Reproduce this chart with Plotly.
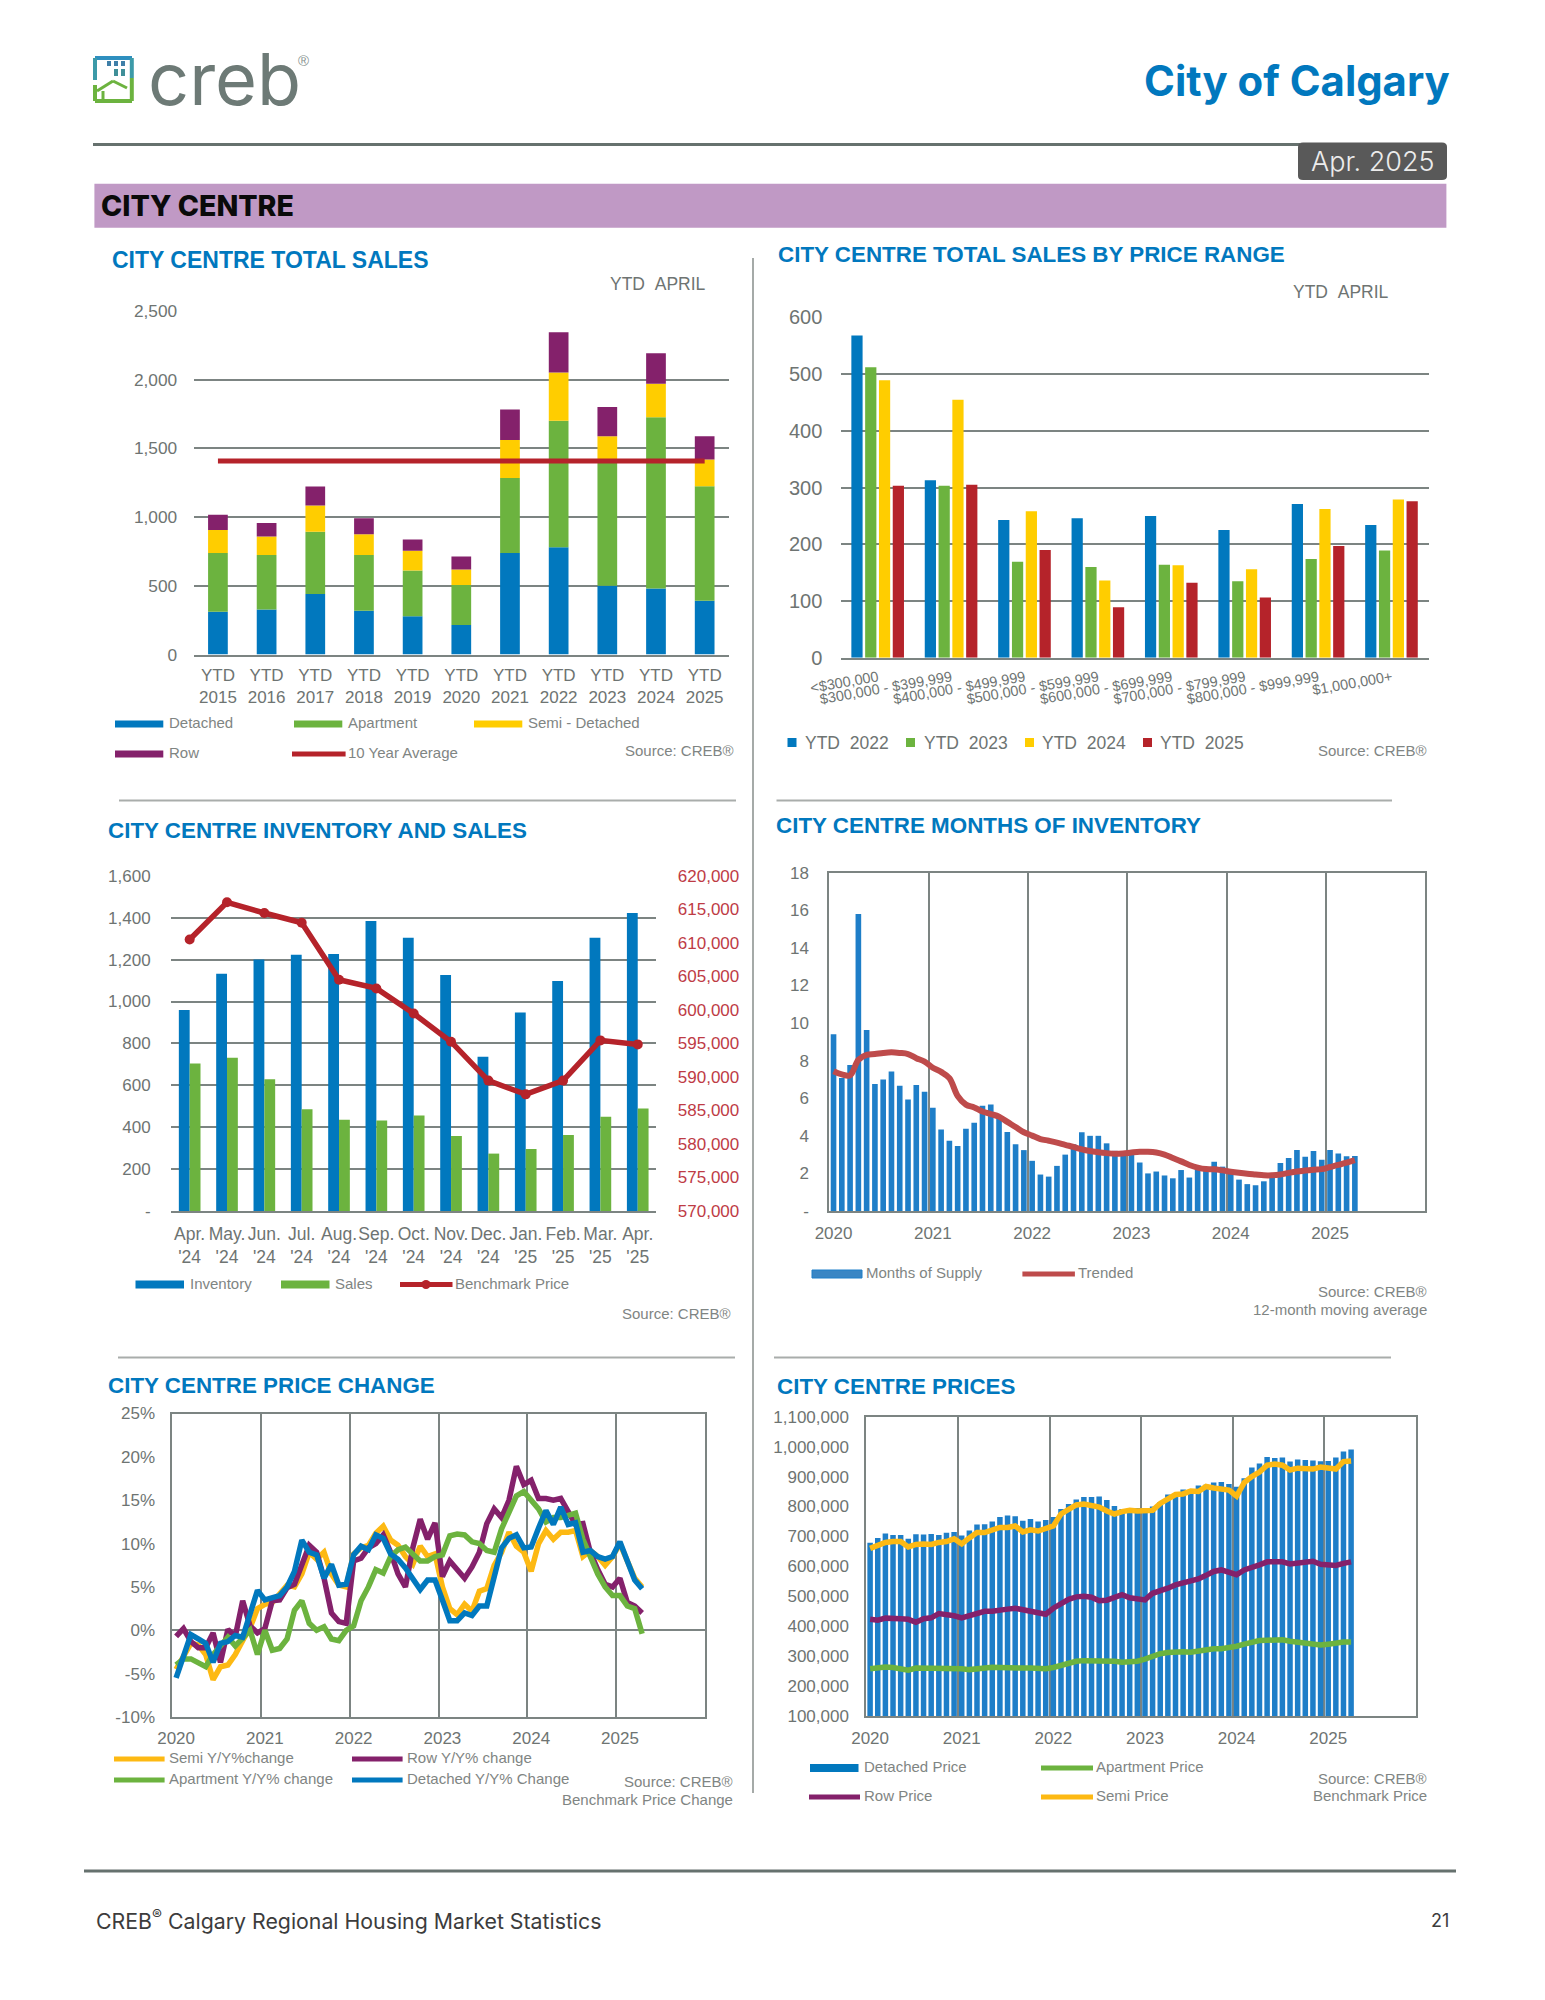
import plotly.graph_objects as go

W, H = 1545, 2000
BLUE, GREEN, YEL, PUR, RED = "#0178BE", "#6CB33F", "#FFCD00", "#84216B", "#B5232A"
GRID = "#7C8482"
TXT = "#6E7472"
LEG = "#7F8583"
SANS = "Liberation Sans"
HEAD = "Inter"

# ---- Total sales
sales_years = ["YTD<br>2015", "YTD<br>2016", "YTD<br>2017", "YTD<br>2018", "YTD<br>2019", "YTD<br>2020",
               "YTD<br>2021", "YTD<br>2022", "YTD<br>2023", "YTD<br>2024", "YTD<br>2025"]
sales_detached = [311, 328, 441, 318, 279, 215, 738, 780, 501, 480, 392]
sales_apartment = [427, 396, 452, 406, 332, 290, 547, 922, 899, 1247, 833]
sales_semi = [169, 134, 191, 152, 145, 113, 276, 350, 189, 243, 195]
sales_row = [110, 99, 138, 116, 81, 95, 222, 293, 212, 223, 169]
sales_average = [1409] * 11

# ---- Sales by price range
price_ranges = ["<$300,000", "$300,000 - $399,999", "$400,000 - $499,999", "$500,000 - $599,999",
                "$600,000 - $699,999", "$700,000 - $799,999", "$800,000 - $999,999", "$1,000,000+"]
range_2022 = [568, 313, 243, 246, 250, 225, 271, 234]
range_2023 = [512, 303, 169, 160, 164, 135, 174, 189]
range_2024 = [489, 455, 258, 136, 163, 156, 262, 279]
range_2025 = [303, 305, 190, 89, 132, 106, 197, 276]

# ---- Inventory and sales
inv_months = ["Apr.<br>'24", "May.<br>'24", "Jun.<br>'24", "Jul.<br>'24", "Aug.<br>'24", "Sep.<br>'24", "Oct.<br>'24",
              "Nov.<br>'24", "Dec.<br>'24", "Jan.<br>'25", "Feb.<br>'25", "Mar.<br>'25", "Apr.<br>'25"]
inventory = [959, 1133, 1200, 1223, 1227, 1384, 1304, 1126, 736, 947, 1098, 1304, 1422]
inv_sales = [704, 731, 629, 486, 435, 432, 456, 358, 274, 296, 363, 450, 489]
benchmark = [610500, 616050, 614450, 613000, 604500, 603200, 599450, 595250, 589450, 587400, 589450, 595450, 594850]

# ---- Monthly series, Jan 2020 to Apr 2025
month_index = list(range(64))
year_labels = ["2020", "2021", "2022", "2023", "2024", "2025"]
year_ticks = [0, 12, 24, 36, 48, 60]

supply = [9.4, 7.07, 7.77, 15.8, 9.63, 6.76, 7.0, 7.42, 6.67, 5.93, 6.7, 6.35,
          5.5, 4.34, 3.74, 3.46, 4.38, 4.69, 5.6, 5.66, 5.0, 4.2, 3.55, 3.24,
          2.67, 1.94, 1.83, 2.4, 3.0, 3.55, 4.19, 4.0, 4.0, 3.6, 3.2, 3.0,
          3.19, 2.58, 2.0, 2.1, 1.89, 1.74, 2.18, 1.78, 2.27, 2.27, 2.62, 2.36,
          2.0, 1.67, 1.43, 1.37, 1.58, 1.9, 2.55, 2.82, 3.24, 2.88, 3.19, 2.73,
          3.24, 3.06, 2.91, 2.93]
trended = [7.44, 7.27, 7.22, 8.04, 8.31, 8.35, 8.41, 8.44, 8.41, 8.35, 8.13, 7.95,
           7.62, 7.4, 7.07, 6.12, 5.66, 5.51, 5.29, 5.16, 5.02, 4.74, 4.47, 4.19,
           4.01, 3.83, 3.74, 3.64, 3.52, 3.41, 3.28, 3.19, 3.13, 3.08, 3.04, 3.06,
           3.11, 3.15, 3.15, 3.11, 3.0, 2.82, 2.64, 2.45, 2.31, 2.23, 2.22, 2.16,
           2.09, 2.03, 1.98, 1.94, 1.9, 1.9, 1.94, 2.03, 2.1, 2.16, 2.2, 2.23,
           2.34, 2.45, 2.58, 2.71]

chg_semi = [-4.5, -3, -1.5, -1.7, -2.8, -5.7, -4.2, -4, -2.8, -1.2, 0.3, 2.5,
            3, 3.2, 4.2, 5.2, 5.0, 6.5, 9, 8.2, 9, 6.5, 5.2, 5,
            8.8, 9.5, 9.8, 11.2, 12, 10.4, 9.8, 8.5, 7.6, 9.7, 8.5, 8.8,
            5, 2.5, 1.8, 3, 2.2, 4.5, 4.8, 7.5, 9, 11.3, 9.7, 9,
            6.8, 10, 11.5, 10.5, 11.3, 11.3, 11.5, 8.5, 9.2, 8.5, 7.5, 8.5,
            10, 8, 6, 5]
chg_row = [-0.7, 0.2, -1.3, -2, -2, -0.3, -3.7, 0.1, -0.7, 3.4, 0.5, -0.3,
           0.2, 3.4, 3.5, 4.9, 5.3, 7.5, 9.8, 9.0, 6, 2, 1, 0.8,
           8.0, 8.3, 9.5, 10, 11, 9, 6.5, 5, 9.5, 12.8, 10.5, 12.4,
           6.2, 8, 7, 6, 7.3, 9, 12.3, 14, 13, 15, 18.9, 16.8,
           17.3, 15.2, 15.2, 15, 15.2, 13.8, 12.2, 12.3, 9, 7, 5.3, 5,
           6, 3.2, 2.8, 2]
chg_apartment = [-4, -3.3, -3.3, -3.7, -4.2, -2.8, -1.8, -0.8, -1.8, -1, 0, -2.8,
                 0, -2.3, -2.1, -1, 2.3, 3.4, 0.8, 0, 0.4, -1, -1.2, 0,
                 0.5, 3.4, 5, 7, 6.6, 8.5, 9.3, 9.6, 8.8, 8, 8, 8.5,
                 8.7, 10.9, 11.1, 11, 10.2, 10, 9.2, 9, 11.7, 13.5, 15.5, 16,
                 15, 14, 12.5, 13, 13, 13.2, 13.5, 10.5, 8.5, 6.5, 5, 4,
                 4, 2.8, 2.5, -0.4]
chg_detached = [-5.5, -2.8, -0.5, -1, -1.5, -3.7, -1.5, -1.3, -0.6, -0.8, 2.0, 4.6,
                3.5, 3.8, 4.0, 5.0, 6.8, 10.4, 9.0, 8.7, 6.0, 7.6, 5.2, 5.3,
                8.7, 9.7, 9.3, 11, 10.6, 8.8, 8.2, 7.2, 6.0, 4.7, 5.8, 5.8,
                3.5, 1.1, 1.1, 2, 1.7, 2.8, 2.8, 6.5, 9.5, 10.6, 11, 9.5,
                9.6, 11.8, 13.8, 12.2, 14.2, 12.2, 12.4, 9.0, 9.2, 8.5, 8.2, 8.5,
                10.2, 8, 5.8, 4.8]

price_detached = [679, 695, 710, 705, 705, 692, 707, 706, 708, 705, 712, 715,
                  703, 720, 740, 741, 750, 765, 770, 767, 752, 758, 750, 755,
                  765, 792, 808, 823, 832, 832, 833, 822, 802, 792, 795, 795,
                  795, 800, 815, 840, 845, 857, 857, 870, 873, 880, 882, 875,
                  866, 894, 930, 944, 965, 962, 964, 950, 957, 955, 954, 951,
                  952, 964, 984, 990]
price_apartment = [258, 262, 264, 262, 258, 253, 260, 260, 260, 262, 260, 258,
                   258, 255, 258, 260, 263, 262, 260, 260, 260, 260, 258, 258,
                   262, 270, 278, 283, 285, 285, 285, 283, 283, 280, 280, 283,
                   290, 300, 308, 312, 315, 315, 313, 318, 322, 325, 325, 327,
                   333, 340, 347, 352, 353, 355, 355, 350, 347, 343, 338, 337,
                   340, 345, 347, 347]
price_row = [423, 420, 427, 428, 425, 423, 413, 425, 428, 442, 440, 435,
             428, 435, 443, 450, 450, 455, 457, 460, 455, 450, 445, 440,
             460, 475, 490, 498, 500, 497, 485, 487, 498, 505, 495, 492,
             488, 510, 517, 527, 538, 545, 548, 558, 570, 583, 588, 580,
             572, 588, 595, 605, 615, 617, 615, 608, 612, 615, 617, 607,
             604, 603, 610, 615]
price_semi = [660, 670, 680, 683, 683, 665, 673, 675, 673, 680, 683, 692,
              675, 695, 713, 713, 720, 730, 730, 735, 715, 722, 718, 725,
              735, 775, 790, 805, 808, 803, 798, 785, 775, 783, 787, 785,
              785, 787, 810, 825, 840, 842, 852, 850, 867, 862, 858, 855,
              835, 880, 900, 915, 938, 942, 938, 922, 928, 928, 925, 932,
              930, 925, 950, 952]


def px(x):
    return x / W


def py(y):
    return 1 - y / H


shapes, notes = [], []


def rect(x0, y0, x1, y1, fill, line=None):
    shapes.append(dict(type="rect", xref="paper", yref="paper", x0=px(x0), x1=px(x1), y0=py(y0), y1=py(y1),
                       fillcolor=fill, line=dict(width=1 if line else 0, color=line or fill)))


def seg(x0, y0, x1, y1, color, width):
    shapes.append(dict(type="line", xref="paper", yref="paper", x0=px(x0), x1=px(x1), y0=py(y0), y1=py(y1),
                       line=dict(color=color, width=width)))


def txt(x, y, s, size, color=LEG, anchor="left", family=SANS, weight=400):
    notes.append(dict(xref="paper", yref="paper", x=px(x), y=py(y), text=s, showarrow=False, xanchor=anchor,
                      yanchor="middle", align=anchor,
                      font=dict(size=size, color=color, family=family, weight=weight)))


def leg(x, y, s, size=15, color=LEG):
    txt(x - 2.5, y - 1.5, s, size, color)


def src(x, y, s):
    txt(x + 2, y - 1, s, 15, LEG, "right")


def dom(a, b, total):
    return [a / total, b / total]


def ydom(top, bottom):
    return [1 - bottom / H, 1 - top / H]


base_tick = dict(family=SANS, color=TXT)
fig = go.Figure()

# ---------- Chart 1: total sales
stack_base = [0] * len(sales_years)
for name, vals, col in [("Detached", sales_detached, BLUE), ("Apartment", sales_apartment, GREEN),
                        ("Semi - Detached", sales_semi, YEL), ("Row", sales_row, PUR)]:
    fig.add_trace(go.Bar(name=name, x=sales_years, y=vals, base=list(stack_base), marker_color=col, width=0.405,
                         offset=-0.2025, xaxis="x", yaxis="y"))
    stack_base = [a + b for a, b in zip(stack_base, vals)]
fig.add_trace(go.Scatter(name="10 Year Average", x=sales_years, y=sales_average, mode="lines",
                         line=dict(color=RED, width=5), xaxis="x", yaxis="y"))

# ---------- Chart 2: price ranges
for i, (name, vals, col) in enumerate([("YTD 2022", range_2022, BLUE), ("YTD 2023", range_2023, GREEN),
                                        ("YTD 2024", range_2024, YEL), ("YTD 2025", range_2025, RED)]):
    fig.add_trace(go.Bar(name=name, x=price_ranges, y=vals, marker_color=col, width=0.153,
                         offset=-0.363 + i * 0.188, xaxis="x2", yaxis="y2"))

# ---------- Chart 3: inventory
fig.add_trace(go.Bar(name="Inventory", x=inv_months, y=inventory, marker_color=BLUE, width=0.29, offset=-0.29,
                     xaxis="x3", yaxis="y3"))
fig.add_trace(go.Bar(name="Sales", x=inv_months, y=inv_sales, marker_color=GREEN, width=0.29, offset=0,
                     xaxis="x3", yaxis="y3"))
fig.add_trace(go.Scatter(name="Benchmark Price", x=inv_months, y=benchmark, mode="lines+markers",
                         line=dict(color=RED, width=5.5), marker=dict(color=RED, size=10), xaxis="x3", yaxis="y7"))

# ---------- Chart 4: months of supply
fig.add_trace(go.Bar(name="Months of Supply", x=month_index, y=supply, marker_color="#1E7EC8", width=0.68,
                     xaxis="x4", yaxis="y4"))
fig.add_trace(go.Scatter(name="Trended", x=month_index, y=trended, mode="lines",
                         line=dict(color="#BE4B4B", width=6, shape="spline"), xaxis="x4", yaxis="y4"))

# ---------- Chart 5: price change
for name, vals, col in [("Semi Y/Y%change", chg_semi, "#FDB913"), ("Row Y/Y% change", chg_row, PUR),
                        ("Apartment Y/Y% change", chg_apartment, GREEN), ("Detached Y/Y% Change", chg_detached, BLUE)]:
    fig.add_trace(go.Scatter(name=name, x=month_index, y=vals, mode="lines",
                             line=dict(color=col, width=5.5), xaxis="x5", yaxis="y5"))

# ---------- Chart 6: prices
fig.add_trace(go.Bar(name="Detached Price", x=month_index, y=[v * 1000 for v in price_detached],
                     marker_color="#1E7EC8", width=0.72, xaxis="x6", yaxis="y6"))
for name, vals, col in [("Apartment Price", price_apartment, GREEN), ("Row Price", price_row, PUR),
                        ("Semi Price", price_semi, "#FDB913")]:
    fig.add_trace(go.Scatter(name=name, x=month_index, y=[v * 1000 for v in vals], mode="lines",
                             line=dict(color=col, width=5.5), xaxis="x6", yaxis="y6"))

invisible = "rgba(0,0,0,0)"


def boxed_x(xd, anchor, tl=8):
    return dict(domain=xd, anchor=anchor, range=[-0.5, 71.5], tickmode="array", tickvals=year_ticks,
                ticktext=year_labels, tickfont=dict(size=17, **base_tick), ticks="outside", tickcolor=invisible,
                ticklen=tl, showgrid=False, zeroline=False, showline=True, mirror=True, linecolor=GRID, linewidth=2,
                automargin=False,
                minor=dict(showgrid=True, tick0=-0.5, dtick=12, gridcolor=GRID, gridwidth=2, ticks=""))


def boxed_y(yd, anchor, rng, **kw):
    d = dict(domain=yd, anchor=anchor, range=rng, showgrid=False, zeroline=False, showline=True, mirror=True,
             linecolor=GRID, linewidth=2, ticks="outside", tickcolor=invisible, ticklen=14, automargin=False,
             tickfont=dict(size=17, **base_tick))
    d.update(kw)
    return d


def ruled_y(yd, anchor, rng, size, standoff, **kw):
    d = dict(domain=yd, anchor=anchor, range=rng, showgrid=True, gridcolor=GRID, gridwidth=2, zeroline=False,
             showline=False, ticks="outside", tickcolor=invisible, ticklen=standoff, automargin=False,
             tickfont=dict(size=size, **base_tick))
    d.update(kw)
    return d


fig.update_layout(
    template="none", width=W, height=H, autosize=False,
    margin=dict(l=0, r=0, t=0, b=0, pad=0, autoexpand=False), paper_bgcolor="white",
    plot_bgcolor="white", barmode="overlay", showlegend=False, hovermode=False,
    xaxis=dict(domain=dom(193.6, 729, W), anchor="y", type="category", range=[-0.5, 10.5], tickangle=0,
               ticks="outside", tickcolor=invisible, ticklen=4, tickfont=dict(size=17, **base_tick), showline=True,
               linecolor=GRID, linewidth=2, showgrid=False, automargin=False),
    yaxis=ruled_y(ydom(311, 654.5), "x", [0, 2500], 17.3, 12, tickvals=[0, 500, 1000, 1500, 2000, 2500],
                  tickformat=","),
    xaxis2=dict(domain=dom(841.3, 1428.5, W), anchor="y2", type="category", range=[-0.5, 7.5], tickangle=-10,
                ticks="outside", tickcolor=invisible, ticklen=4, tickfont=dict(size=14.5, **base_tick), showline=True,
                linecolor=GRID, linewidth=2, showgrid=False, automargin=False),
    yaxis2=ruled_y(ydom(317.4, 657.7), "x2", [0, 600], 20, 14, tickvals=[0, 100, 200, 300, 400, 500, 600]),
    xaxis3=dict(domain=dom(171, 656.4, W), anchor="y3", type="category", range=[-0.5, 12.5], tickangle=0,
                ticks="outside", tickcolor=invisible, ticklen=6, tickfont=dict(size=17.5, **base_tick), showline=True,
                linecolor=GRID, linewidth=2, showgrid=False, automargin=False),
    yaxis3=ruled_y(ydom(875.8, 1211), "x3", [0, 1600], 17, 16, tickmode="array",
                   tickvals=[0, 200, 400, 600, 800, 1000, 1200, 1400, 1600],
                   ticktext=["-", "200", "400", "600", "800", "1,000", "1,200", "1,400", "1,600"]),
    yaxis7=dict(domain=ydom(875.8, 1211), anchor="x3", overlaying="y3", side="right", range=[570000, 620000],
                showgrid=False, zeroline=False, showline=False, ticks="outside", tickcolor=invisible, ticklen=17,
                tickformat=",", dtick=5000, automargin=False, tickfont=dict(size=17, family=SANS, color="#BE3B45")),
    xaxis4=boxed_x(dom(829.4, 1425.2, W), "y4", 6),
    yaxis4=boxed_y(ydom(872.7, 1211), "x4", [0, 18], ticklen=15, tickmode="array", tickvals=list(range(0, 19, 2)),
                   ticktext=["-"] + [str(v) for v in range(2, 19, 2)]),
    xaxis5=boxed_x(dom(172.4, 705, W), "y5", 5),
    yaxis5=boxed_y(ydom(1413.5, 1717), "x5", [-10, 25], ticklen=12, tickvals=[-10, -5, 0, 5, 10, 15, 20, 25],
                   ticktext=["-10%", "-5%", "0%", "5%", "10%", "15%", "20%", "25%"], tickmode="array",
                   zeroline=True, zerolinecolor=GRID, zerolinewidth=2),
    xaxis6=boxed_x(dom(866.3, 1416, W), "y6", 6),
    yaxis6=boxed_y(ydom(1416.7, 1716), "x6", [100000, 1100000], ticklen=12, tickformat=",", dtick=100000),
)

# ---------- Page furniture
seg(93, 144.5, 1300, 144.5, "#66716E", 3)
rect(94.4, 183.7, 1446.4, 227.8, "#C099C5")
shapes.append(dict(type="path", xref="paper", yref="paper", fillcolor="#595959", line=dict(width=0),
                   path=" ".join([f"M {px(1303)} {py(142.5)}", f"L {px(1442)} {py(142.5)}",
                                  f"Q {px(1447)} {py(142.5)} {px(1447)} {py(147)}", f"L {px(1447)} {py(176)}",
                                  f"Q {px(1447)} {py(180)} {px(1442)} {py(180)}", f"L {px(1303)} {py(180)}",
                                  f"Q {px(1298)} {py(180)} {px(1298)} {py(176)}", f"L {px(1298)} {py(147)}",
                                  f"Q {px(1298)} {py(142.5)} {px(1303)} {py(142.5)} Z"])))
txt(1373, 161.5, "Apr. 2025", 27, "#ECECEC", "center", HEAD, 300)
txt(1452, 81, "City of Calgary", 41.8, "#0178BE", "right", HEAD, 700)
txt(99, 206, "CITY CENTRE", 28.6, "#0A0A0A", "left", HEAD, 800)

# logo
seg(95, 58, 132, 58, "#2E8FBF", 4)
seg(131.8, 58, 131.8, 78, "#3C9AA8", 4)
seg(95, 58, 95, 80, "#3C9AA8", 4)
seg(95, 85, 95, 101, "#6CB33F", 4)
seg(95, 101, 132, 101, "#6CB33F", 4)
seg(131.8, 78, 131.8, 101, "#6CB33F", 4)
seg(97, 91, 113, 81, "#6CB33F", 3)
seg(113, 81, 127, 88, "#6CB33F", 3)
seg(103, 91, 103, 100, "#6CB33F", 3)
for xx in (109, 116, 123):
    rect(xx - 2, 61, xx + 2, 66, "#3F7FA8")
for xx in (116, 123):
    rect(xx - 2, 69, xx + 2, 76, "#3F8F98")
txt(146, 79, "creb", 72, "#6D7A76", "left", HEAD, 400)
txt(303, 60, "®", 15, "#8A9491", "center", SANS)

seg(753, 258, 753, 1793, "#A5AAA8", 2)
seg(119, 800.5, 736, 800.5, "#A9ADAB", 2)
seg(776.5, 800.5, 1392, 800.5, "#A9ADAB", 2)
seg(118, 1357.5, 735, 1357.5, "#A9ADAB", 2)
seg(774, 1357.5, 1391, 1357.5, "#A9ADAB", 2)
seg(84, 1871, 1456, 1871, "#66716E", 3)
txt(94, 1920, "CREB<sup>®</sup> Calgary Regional Housing Market Statistics", 21.3, "#3C3C3C", "left", HEAD)
txt(1451, 1920, "21", 18, "#3C3C3C", "right", HEAD)

# titles
TITLE = "#0178BE"
txt(109.5, 260, "CITY CENTRE TOTAL SALES", 23, TITLE, "left", SANS, 700)
txt(776, 254, "CITY CENTRE TOTAL SALES BY PRICE RANGE", 22.4, TITLE, "left", SANS, 700)
txt(105.5, 830, "CITY CENTRE INVENTORY AND SALES", 22.4, TITLE, "left", SANS, 700)
txt(774, 825, "CITY CENTRE MONTHS OF INVENTORY", 22.4, TITLE, "left", SANS, 700)
txt(105.5, 1385, "CITY CENTRE PRICE CHANGE", 22.4, TITLE, "left", SANS, 700)
txt(775, 1386, "CITY CENTRE PRICES", 22.4, TITLE, "left", SANS, 700)

txt(708, 283.5, "YTD\u00a0\u00a0APRIL", 17.5, TXT, "right")
txt(1391, 292, "YTD\u00a0\u00a0APRIL", 17.5, TXT, "right")

# legend 1
for x0, y, c, t in [(115, 724, BLUE, "Detached"), (294, 724, GREEN, "Apartment"), (474, 724, YEL, "Semi - Detached"),
                    (115, 754, PUR, "Row")]:
    rect(x0, y - 3.5, x0 + 48.3, y + 3.5, c)
    leg(x0 + 54, y, t)
seg(292, 754, 345.6, 754, RED, 5)
leg(348, 754, "10 Year Average")
src(733.5, 751, "Source: CREB®")

# legend 2
for x0, lx, c, t in [(787.5, 805.5, BLUE, "YTD\u00a0\u00a02022"), (906, 924, GREEN, "YTD\u00a0\u00a02023"),
                     (1025, 1042, YEL, "YTD\u00a0\u00a02024"), (1143, 1160, RED, "YTD\u00a0\u00a02025")]:
    rect(x0, 738, x0 + 9, 747, c)
    leg(lx, 744, t, 17.5, TXT)
src(1426.7, 751, "Source: CREB®")

# legend 3
for x0, c, t in [(135.5, BLUE, "Inventory"), (281, GREEN, "Sales")]:
    rect(x0, 1280.5, x0 + 48.5, 1288.5, c)
    leg(x0 + 54.5, 1284.5, t)
seg(400, 1284.5, 452.5, 1284.5, RED, 5)
shapes.append(dict(type="circle", xref="paper", yref="paper", x0=px(421.5), x1=px(430.5), y0=py(1289), y1=py(1280),
                   fillcolor=RED, line=dict(width=0)))
leg(455.6, 1284.5, "Benchmark Price")
src(731, 1314.5, "Source: CREB®")

# legend 4
rect(812, 1270, 862, 1278, "#3A86C4", "#1E7EC8")
leg(866, 1274, "Months of Supply")
seg(1022.4, 1274, 1074.9, 1274, "#BE4B4B", 5)
leg(1078.8, 1274, "Trended")
src(1427, 1292, "Source: CREB®")
src(1427, 1310, "12-month moving average")

# legend 5
for x0, lx, y, c, t in [(114, 169, 1759, "#FDB913", "Semi Y/Y%change"), (352, 407, 1759, PUR, "Row Y/Y% change"),
                        (114, 169, 1780, GREEN, "Apartment Y/Y% change"),
                        (352, 407, 1780, BLUE, "Detached Y/Y% Change")]:
    seg(x0, y, x0 + 50.6, y, c, 5)
    leg(lx, y, t)
src(733, 1782, "Source: CREB®")
src(733, 1800, "Benchmark Price Change")

# legend 6
rect(810, 1764, 858.5, 1772, BLUE)
leg(864, 1768, "Detached Price")
seg(809, 1797, 860, 1797, PUR, 5)
leg(864, 1797, "Row Price")
seg(1041, 1768, 1093, 1768, GREEN, 5)
leg(1096, 1768, "Apartment Price")
seg(1041, 1797, 1093, 1797, "#FDB913", 5)
leg(1096, 1797, "Semi Price")
src(1427, 1779, "Source: CREB®")
src(1427, 1796, "Benchmark Price")

fig.update_layout(shapes=shapes, annotations=notes)
fig.write_html("out.html", config=dict(displayModeBar=False),
               post_script="document.body.style.margin='0';document.body.style.overflow='hidden';")
